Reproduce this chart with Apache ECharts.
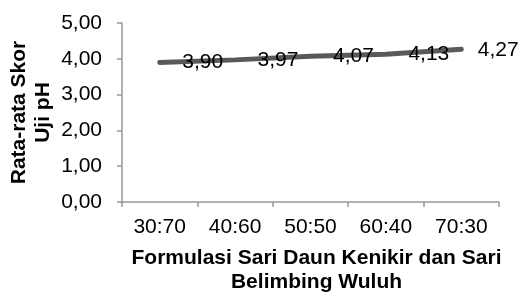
<!DOCTYPE html>
<html>
<head>
<meta charset="utf-8">
<script src="https://cdn.jsdelivr.net/npm/echarts@6/dist/echarts.min.js"></script>
<style>
  html, body { margin: 0; padding: 0; background: #fff; }
  #chart { width: 521px; height: 295px; }
</style>
</head>
<body>
<div id="chart"></div>
<script>
// data
const categories = ['30:70', '40:60', '50:50', '60:40', '70:30']
const phScores = [3.90, 3.97, 4.07, 4.13, 4.27]
const yTicks = { min: 0, max: 5, interval: 1 }

const font = 'Liberation Sans, Arial, sans-serif'
const fmt = (v) => v.toFixed(2).replace('.', ',')

const chart = echarts.init(document.getElementById('chart'))

const option = {
  animation: false,
  grid: { left: 122, right: 22, top: 23, bottom: 93, outerBoundsMode: 'none' },
  xAxis: {
    type: 'category',
    data: categories,
    boundaryGap: true,
    name: 'Formulasi Sari Daun Kenikir dan Sari\nBelimbing Wuluh',
    nameLocation: 'middle',
    nameGap: 44,
    nameTextStyle: {
      fontFamily: font, fontSize: 21, fontWeight: 'bold', color: '#000',
      lineHeight: 24, padding: [0, 0, 0, 12]
    },
    axisLine: { lineStyle: { color: '#999', width: 1.5 } },
    axisTick: { show: true, length: 5, lineStyle: { color: '#999', width: 1.5 } },
    axisLabel: { fontFamily: font, fontSize: 21, color: '#000', margin: 15 },
    splitLine: { show: false }
  },
  yAxis: {
    type: 'value',
    min: yTicks.min,
    max: yTicks.max,
    interval: yTicks.interval,
    name: 'Rata-rata Skor\nUji pH',
    nameLocation: 'middle',
    nameGap: 67,
    nameMoveOverlap: false,
    nameTextStyle: {
      fontFamily: font, fontSize: 21, fontWeight: 'bold', color: '#000', lineHeight: 24
    },
    axisLine: { show: true, lineStyle: { color: '#999', width: 1.5 } },
    axisTick: { show: true, length: 5, lineStyle: { color: '#999', width: 1.5 } },
    axisLabel: { fontFamily: font, fontSize: 21, color: '#000', margin: 20, formatter: fmt },
    splitLine: { show: false }
  },
  series: [
    {
      type: 'line',
      data: phScores.map((v, i) => ({
        value: v,
        label: i === phScores.length - 1 ? { distance: 16, offset: [0, 1] } : {}
      })),
      symbol: 'circle',
      symbolSize: 1,
      itemStyle: { color: '#595959' },
      lineStyle: { color: '#595959', width: 5, cap: 'round' },
      label: {
        show: true,
        position: 'right',
        distance: 22,
        fontFamily: font,
        fontSize: 21,
        color: '#000',
        formatter: (p) => fmt(p.value)
      }
    }
  ]
}

chart.setOption(option)
</script>
</body>
</html>
